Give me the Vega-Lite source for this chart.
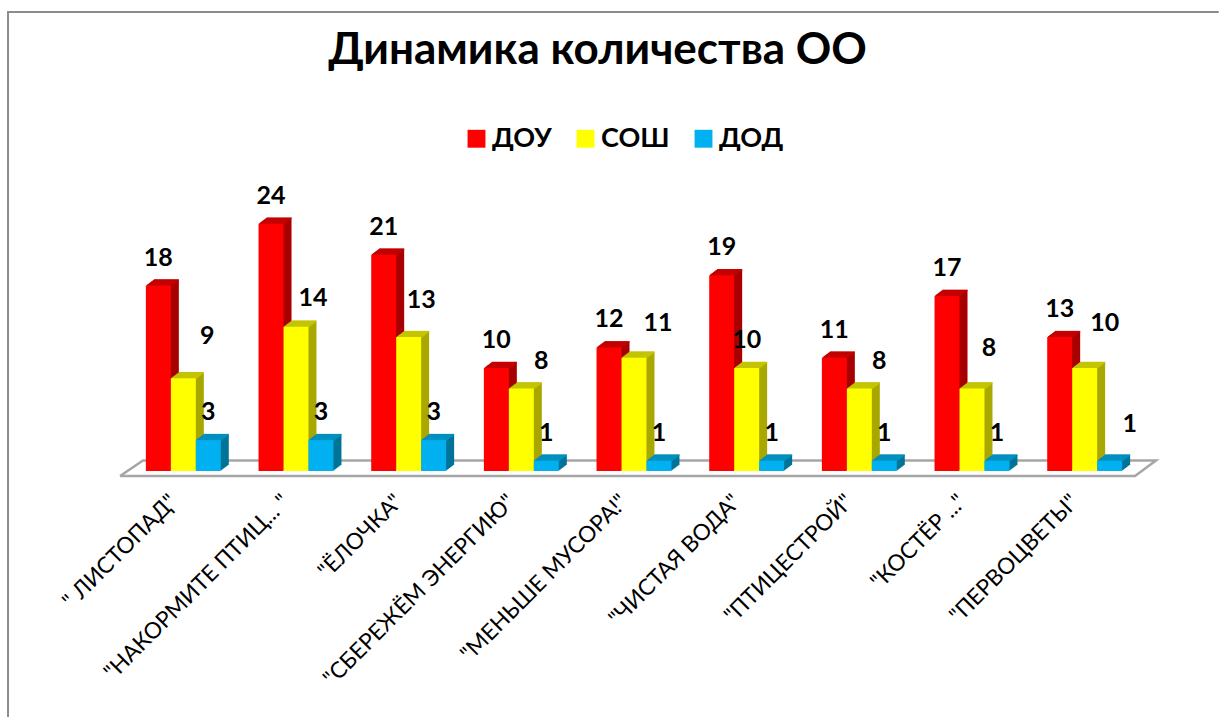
{"$schema":"https://vega.github.io/schema/vega-lite/v6.json","width":1219,"height":717,"padding":0,"autosize":{"type":"none"},"background":"white",
"title":{"text":"Динамика количества ОО","font":"Lato","fontWeight":"bold","fontSize":44,"color":"#000000","anchor":"middle","frame":"group","dx":-12,"dy":73,"offset":0},
"datasets":{"bars":[
{"project":"\" ЛИСТОПАД\"","series":"ДОУ","count":18},{"project":"\" ЛИСТОПАД\"","series":"СОШ","count":9},{"project":"\" ЛИСТОПАД\"","series":"ДОД","count":3},
{"project":"\"НАКОРМИТЕ ПТИЦ... \"","series":"ДОУ","count":24},{"project":"\"НАКОРМИТЕ ПТИЦ... \"","series":"СОШ","count":14},{"project":"\"НАКОРМИТЕ ПТИЦ... \"","series":"ДОД","count":3},
{"project":"\"ЁЛОЧКА\"","series":"ДОУ","count":21},{"project":"\"ЁЛОЧКА\"","series":"СОШ","count":13},{"project":"\"ЁЛОЧКА\"","series":"ДОД","count":3},
{"project":"\"СБЕРЕЖЁМ ЭНЕРГИЮ\"","series":"ДОУ","count":10},{"project":"\"СБЕРЕЖЁМ ЭНЕРГИЮ\"","series":"СОШ","count":8},{"project":"\"СБЕРЕЖЁМ ЭНЕРГИЮ\"","series":"ДОД","count":1},
{"project":"\"МЕНЬШЕ МУСОРА!\"","series":"ДОУ","count":12},{"project":"\"МЕНЬШЕ МУСОРА!\"","series":"СОШ","count":11},{"project":"\"МЕНЬШЕ МУСОРА!\"","series":"ДОД","count":1},
{"project":"\"ЧИСТАЯ ВОДА\"","series":"ДОУ","count":19},{"project":"\"ЧИСТАЯ ВОДА\"","series":"СОШ","count":10},{"project":"\"ЧИСТАЯ ВОДА\"","series":"ДОД","count":1},
{"project":"\"ПТИЦЕСТРОЙ\"","series":"ДОУ","count":11},{"project":"\"ПТИЦЕСТРОЙ\"","series":"СОШ","count":8},{"project":"\"ПТИЦЕСТРОЙ\"","series":"ДОД","count":1},
{"project":"\"КОСТЁР ...\"","series":"ДОУ","count":17},{"project":"\"КОСТЁР ...\"","series":"СОШ","count":8},{"project":"\"КОСТЁР ...\"","series":"ДОД","count":1},
{"project":"\"ПЕРВОЦВЕТЫ\"","series":"ДОУ","count":13},{"project":"\"ПЕРВОЦВЕТЫ\"","series":"СОШ","count":10},{"project":"\"ПЕРВОЦВЕТЫ\"","series":"ДОД","count":1}
],
"floor":[{"slot":-0.062,"level":-0.485,"i":0},{"slot":0.142,"level":1.02,"i":1},{"slot":9.133,"level":1.02,"i":2},{"slot":8.947,"level":-0.485,"i":3},{"slot":-0.062,"level":-0.485,"i":4}],
"frame":[{"slot":-1.056,"level":-23.9,"i":0},{"slot":-1.056,"level":44.56,"i":1},{"slot":9.69,"level":44.56,"i":2}]},
"layer":[
{"data":{"name":"frame"},"mark":{"type":"line","stroke":"#8c8c8c","strokeWidth":2,"clip":false},"encoding":{"x":{"field":"slot","type":"quantitative","scale":{"domain":[0,9],"range":[127,1141],"nice":false,"zero":false},"axis":null},"y":{"field":"level","type":"quantitative","scale":{"domain":[0,30],"range":[471,162],"nice":false},"axis":null},"order":{"field":"i"}}},
{"data":{"name":"floor"},"mark":{"type":"line","stroke":"#a6a6a6","strokeWidth":2.5,"clip":false},"encoding":{"x":{"field":"slot","type":"quantitative","scale":{"domain":[0,9],"range":[127,1141],"nice":false,"zero":false},"axis":null},"y":{"field":"level","type":"quantitative","axis":null},"order":{"field":"i"}}},
{"data":{"name":"bars"},
"encoding":{
"xOffset":{"field":"series","type":"nominal","sort":["ДОУ","СОШ","ДОД"],"scale":{"domain":["ДОУ","СОШ","ДОД"],"padding":0}},
"y":{"field":"count","type":"quantitative","axis":null}},
"layer":[
{"encoding":{"color":{"field":"series","type":"nominal","legend":null,"scale":{"domain":["ДОУ","СОШ","ДОД"],"range":["#a80000","#a8a800","#007499"]}}},
"layer":[
{"mark":{"type":"bar","yOffset":-6},"encoding":{"x":{"field":"project","type":"nominal","sort":null,"axis":null,"scale":{"range":[135,1149],"paddingInner":0.335,"paddingOuter":0.1675}}}},
{"mark":{"type":"bar","yOffset":-5.25},"encoding":{"x":{"field":"project","type":"nominal","sort":null,"axis":null,"scale":{"range":[134,1148],"paddingInner":0.335,"paddingOuter":0.1675}}}},
{"mark":{"type":"bar","yOffset":-4.5},"encoding":{"x":{"field":"project","type":"nominal","sort":null,"axis":null,"scale":{"range":[133,1147],"paddingInner":0.335,"paddingOuter":0.1675}}}},
{"mark":{"type":"bar","yOffset":-3.75},"encoding":{"x":{"field":"project","type":"nominal","sort":null,"axis":null,"scale":{"range":[132,1146],"paddingInner":0.335,"paddingOuter":0.1675}}}},
{"mark":{"type":"bar","yOffset":-3},"encoding":{"x":{"field":"project","type":"nominal","sort":null,"axis":null,"scale":{"range":[131,1145],"paddingInner":0.335,"paddingOuter":0.1675}}}},
{"mark":{"type":"bar","yOffset":-2.25},"encoding":{"x":{"field":"project","type":"nominal","sort":null,"axis":null,"scale":{"range":[130,1144],"paddingInner":0.335,"paddingOuter":0.1675}}}},
{"mark":{"type":"bar","yOffset":-1.5},"encoding":{"x":{"field":"project","type":"nominal","sort":null,"axis":null,"scale":{"range":[129,1143],"paddingInner":0.335,"paddingOuter":0.1675}}}},
{"mark":{"type":"bar","yOffset":-0.75},"encoding":{"x":{"field":"project","type":"nominal","sort":null,"axis":null,"scale":{"range":[128,1142],"paddingInner":0.335,"paddingOuter":0.1675}}}}
],"resolve":{"scale":{"x":"independent"},"axis":{"x":"independent"}}},
{"encoding":{"color":{"field":"series","type":"nominal","legend":null,"scale":{"domain":["ДОУ","СОШ","ДОД"],"range":["#c40000","#c4c400","#0090bf"]}}},
"layer":[
{"mark":{"type":"tick","orient":"horizontal","size":25,"thickness":1.5,"opacity":1,"yOffset":-5.5},"encoding":{"x":{"field":"project","type":"nominal","sort":null,"axis":null,"scale":{"range":[135,1149],"paddingInner":0.335,"paddingOuter":0.1675}}}},
{"mark":{"type":"tick","orient":"horizontal","size":25,"thickness":1.5,"opacity":1,"yOffset":-4.75},"encoding":{"x":{"field":"project","type":"nominal","sort":null,"axis":null,"scale":{"range":[134,1148],"paddingInner":0.335,"paddingOuter":0.1675}}}},
{"mark":{"type":"tick","orient":"horizontal","size":25,"thickness":1.5,"opacity":1,"yOffset":-4},"encoding":{"x":{"field":"project","type":"nominal","sort":null,"axis":null,"scale":{"range":[133,1147],"paddingInner":0.335,"paddingOuter":0.1675}}}},
{"mark":{"type":"tick","orient":"horizontal","size":25,"thickness":1.5,"opacity":1,"yOffset":-3.25},"encoding":{"x":{"field":"project","type":"nominal","sort":null,"axis":null,"scale":{"range":[132,1146],"paddingInner":0.335,"paddingOuter":0.1675}}}},
{"mark":{"type":"tick","orient":"horizontal","size":25,"thickness":1.5,"opacity":1,"yOffset":-2.5},"encoding":{"x":{"field":"project","type":"nominal","sort":null,"axis":null,"scale":{"range":[131,1145],"paddingInner":0.335,"paddingOuter":0.1675}}}},
{"mark":{"type":"tick","orient":"horizontal","size":25,"thickness":1.5,"opacity":1,"yOffset":-1.75},"encoding":{"x":{"field":"project","type":"nominal","sort":null,"axis":null,"scale":{"range":[130,1144],"paddingInner":0.335,"paddingOuter":0.1675}}}},
{"mark":{"type":"tick","orient":"horizontal","size":25,"thickness":1.5,"opacity":1,"yOffset":-1},"encoding":{"x":{"field":"project","type":"nominal","sort":null,"axis":null,"scale":{"range":[129,1143],"paddingInner":0.335,"paddingOuter":0.1675}}}},
{"mark":{"type":"tick","orient":"horizontal","size":25,"thickness":1.5,"opacity":1,"yOffset":-0.25},"encoding":{"x":{"field":"project","type":"nominal","sort":null,"axis":null,"scale":{"range":[128,1142],"paddingInner":0.335,"paddingOuter":0.1675}}}}
],"resolve":{"scale":{"x":"independent"},"axis":{"x":"independent"}}},
{"encoding":{"x":{"field":"project","type":"nominal","sort":null,"title":null,"scale":{"range":[127,1141],"paddingInner":0.335,"paddingOuter":0.1675},"axis":{"offset":-246,"labelAngle":-45,"labelAlign":"right","labelBaseline":"middle","labelPadding":27,"labelOffset":-10,"labelFont":"Lato","labelFontSize":22.5,"labelColor":"#000000","domain":false,"ticks":false,"grid":false,"labelLimit":400,"labelOverlap":false}}},
"layer":[
{"mark":{"type":"bar"},"encoding":{"color":{"field":"series","type":"nominal","scale":{"domain":["ДОУ","СОШ","ДОД"],"range":["#ff0000","#ffff00","#00b0f0"]},"legend":{"title":null,"orient":"none","legendX":463,"legendY":125,"direction":"horizontal","columns":3,"symbolType":"square","symbolSize":320,"symbolStrokeWidth":0,"symbolOpacity":1,"labelFont":"Lato","labelFontWeight":"bold","labelFontSize":27,"labelColor":"#000000","labelOffset":2,"columnPadding":20,"labelLimit":200}}}},
{"encoding":{"text":{"field":"count","type":"quantitative"},"color":{"value":"#000000"}},
"layer":[
{"transform":[{"filter":"!((datum.series=='СОШ'&&(datum.project=='\" ЛИСТОПАД\"'||datum.project=='\"НАКОРМИТЕ ПТИЦ... \"'||datum.project=='\"ЁЛОЧКА\"'||datum.project=='\"СБЕРЕЖЁМ ЭНЕРГИЮ\"'||datum.project=='\"ПТИЦЕСТРОЙ\"'||datum.project=='\"МЕНЬШЕ МУСОРА!\"'||datum.project=='\"КОСТЁР ...\"'||datum.project=='\"ПЕРВОЦВЕТЫ\"'))||(datum.series=='ДОД'&&datum.project=='\"ПЕРВОЦВЕТЫ\"'))"}],"mark":{"type":"text","font":"Lato","fontWeight":"bold","fontSize":25,"baseline":"middle","dy":-28}},
{"transform":[{"filter":"datum.series=='СОШ'&&datum.project=='\" ЛИСТОПАД\"'"}],"mark":{"type":"text","font":"Lato","fontWeight":"bold","fontSize":25,"baseline":"middle","dx":24,"dy":-42}},
{"transform":[{"filter":"datum.series=='СОШ'&&datum.project=='\"НАКОРМИТЕ ПТИЦ... \"'"}],"mark":{"type":"text","font":"Lato","fontWeight":"bold","fontSize":25,"baseline":"middle","dx":17,"dy":-29}},
{"transform":[{"filter":"datum.series=='СОШ'&&datum.project=='\"ЁЛОЧКА\"'"}],"mark":{"type":"text","font":"Lato","fontWeight":"bold","fontSize":25,"baseline":"middle","dx":12.5,"dy":-37}},
{"transform":[{"filter":"datum.series=='СОШ'&&(datum.project=='\"СБЕРЕЖЁМ ЭНЕРГИЮ\"'||datum.project=='\"ПТИЦЕСТРОЙ\"')"}],"mark":{"type":"text","font":"Lato","fontWeight":"bold","fontSize":25,"baseline":"middle","dx":20,"dy":-28}},
{"transform":[{"filter":"datum.series=='СОШ'&&datum.project=='\"МЕНЬШЕ МУСОРА!\"'"}],"mark":{"type":"text","font":"Lato","fontWeight":"bold","fontSize":25,"baseline":"middle","dx":24,"dy":-35}},
{"transform":[{"filter":"datum.series=='СОШ'&&datum.project=='\"КОСТЁР ...\"'"}],"mark":{"type":"text","font":"Lato","fontWeight":"bold","fontSize":25,"baseline":"middle","dx":17,"dy":-41}},
{"transform":[{"filter":"datum.series=='СОШ'&&datum.project=='\"ПЕРВОЦВЕТЫ\"'"}],"mark":{"type":"text","font":"Lato","fontWeight":"bold","fontSize":25,"baseline":"middle","dx":20,"dy":-45}},
{"transform":[{"filter":"datum.series=='ДОД'&&datum.project=='\"ПЕРВОЦВЕТЫ\"'"}],"mark":{"type":"text","font":"Lato","fontWeight":"bold","fontSize":25,"baseline":"middle","dx":20,"dy":-37}}
]}
]}
],"resolve":{"scale":{"color":"independent","x":"independent"},"axis":{"x":"independent"}}}
],"resolve":{"scale":{"x":"independent"},"axis":{"x":"independent"}},"config":{"view":{"stroke":null}}}
